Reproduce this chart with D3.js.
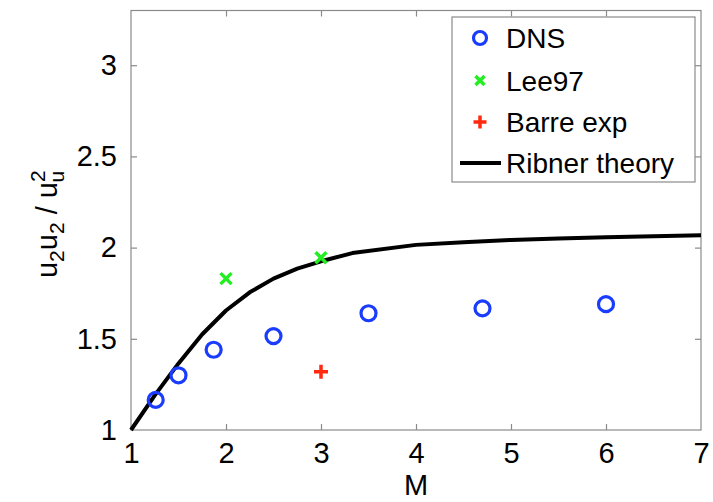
<!DOCTYPE html>
<html><head><meta charset="utf-8">
<script src="https://cdn.jsdelivr.net/npm/d3@7"></script>
<style>body{margin:0;background:#fff}svg{display:block}text{font-family:"Liberation Sans",Arial,sans-serif}</style>
</head><body>
<svg id="c" width="713" height="502"></svg>
<script>
const dnsM = [1.26, 1.5, 1.87, 2.5, 3.5, 4.7, 6.0];
const dnsVal = [1.165, 1.30, 1.44, 1.515, 1.64, 1.667, 1.69];
const leeM = [2, 3];
const leeVal = [1.83, 1.945];
const barreM = [3];
const barreVal = [1.32];
const ribnerM = [1, 1.25, 1.5, 1.75, 2, 2.25, 2.5, 2.75, 3, 3.33, 4, 4.5, 5, 5.5, 6, 6.5, 7];
const ribnerVal = [1, 1.19, 1.365, 1.525, 1.655, 1.755, 1.83, 1.885, 1.925, 1.97, 2.015, 2.03, 2.042, 2.05, 2.057, 2.062, 2.068];
const xTicks = [1, 2, 3, 4, 5, 6, 7];
const yTicks = [1, 1.5, 2, 2.5, 3];
const legendLabels = ["DNS", "Lee97", "Barre exp", "Ribner theory"];

const svg = d3.select("#c");
const L = 131, R = 701, T = 10.5, B = 430;
const x = d3.scaleLinear().domain([1, 7]).range([L, R]);
const y = d3.scaleLinear().domain([1, 3.3]).range([B, T]);
const axisCol = "#8a8a8a";
const fs = 29;

svg.append("rect").attr("x", L).attr("y", T).attr("width", R - L).attr("height", B - T)
  .attr("fill", "none").attr("stroke", axisCol).attr("stroke-width", 1.2);

function styleAxis(g) {
  g.select(".domain").remove();
  g.selectAll(".tick line").attr("stroke", axisCol).attr("stroke-width", 1.2);
  g.selectAll(".tick text").attr("fill", "#000").style("font-size", fs + "px")
   .style("font-family", '"Liberation Sans",Arial,sans-serif');
}
const tk = 6;
svg.append("g").attr("transform", `translate(0,${B})`)
  .call(d3.axisBottom(x).tickValues(xTicks).tickFormat(d3.format("d")).tickSizeInner(-tk).tickSizeOuter(0).tickPadding(12))
  .call(styleAxis);
svg.append("g").attr("transform", `translate(0,${T})`)
  .call(d3.axisTop(x).tickValues(xTicks).tickFormat("").tickSizeInner(-tk).tickSizeOuter(0))
  .call(styleAxis);
svg.append("g").attr("transform", `translate(${L},0)`)
  .call(d3.axisLeft(y).tickValues(yTicks).tickFormat(d => d3.format("")(d)).tickSizeInner(-tk).tickSizeOuter(0).tickPadding(14))
  .call(styleAxis);
svg.append("g").attr("transform", `translate(${R},0)`)
  .call(d3.axisRight(y).tickValues(yTicks).tickFormat("").tickSizeInner(-tk).tickSizeOuter(0))
  .call(styleAxis);
svg.selectAll(".tick").filter(d => d === 1 || d === 7).select("line").attr("opacity", 0);

svg.append("text").attr("x", (L + R) / 2).attr("y", 495).attr("text-anchor", "middle")
  .style("font-size", fs + "px").text("M");

const yl = svg.append("text").attr("transform", `translate(57,${(B + T) / 2 + 4}) rotate(-90)`)
  .attr("text-anchor", "middle").style("font-size", fs + "px");
yl.append("tspan").text("u");
yl.append("tspan").attr("dy", 7).style("font-size", "21px").text("2");
yl.append("tspan").attr("dy", -7).text("u");
yl.append("tspan").attr("dy", 7).style("font-size", "21px").text("2");
yl.append("tspan").attr("dy", -7).text(" / u");
yl.append("tspan").attr("dy", -12).style("font-size", "21px").text("2");
yl.append("tspan").attr("dy", 19).attr("dx", -12).style("font-size", "21px").text("u");

const line = d3.line().x((d, i) => x(ribnerM[i])).y(d => y(d));
svg.append("path").datum(ribnerVal).attr("d", line).attr("fill", "none")
  .attr("stroke", "#000").attr("stroke-width", 4).attr("stroke-linejoin", "round");

const blue = "#1a3cff", green = "#22ee22", red = "#ff2a10";
svg.selectAll("circle.dns").data(dnsVal).join("circle").attr("class", "dns")
  .attr("cx", (d, i) => x(dnsM[i])).attr("cy", d => y(d)).attr("r", 7.5)
  .attr("fill", "none").attr("stroke", blue).attr("stroke-width", 3.2);

function crossX(g, cx, cy, s, col) {
  g.append("path").attr("d", `M${cx - s},${cy - s}L${cx + s},${cy + s}M${cx - s},${cy + s}L${cx + s},${cy - s}`)
    .attr("stroke", col).attr("stroke-width", 3.5).attr("fill", "none");
}
function plus(g, cx, cy, s, col) {
  g.append("path").attr("d", `M${cx - s},${cy}L${cx + s},${cy}M${cx},${cy - s}L${cx},${cy + s}`)
    .attr("stroke", col).attr("stroke-width", 3.5).attr("fill", "none");
}
leeVal.forEach((d, i) => crossX(svg, x(leeM[i]), y(d), 5.5, green));
barreVal.forEach((d, i) => plus(svg, x(barreM[i]), y(d), 7, red));

const lg = svg.append("g");
lg.append("rect").attr("x", 452).attr("y", 17).attr("width", 243).attr("height", 165)
  .attr("fill", "#fff").attr("stroke", axisCol).attr("stroke-width", 1.2);
const ly = [38, 80.5, 122, 163];
lg.append("circle").attr("cx", 480).attr("cy", ly[0]).attr("r", 6.5).attr("fill", "none")
  .attr("stroke", blue).attr("stroke-width", 3.2);
crossX(lg, 480, ly[1], 4.5, green);
plus(lg, 480, ly[2], 6.5, red);
lg.append("line").attr("x1", 460).attr("x2", 501).attr("y1", ly[3]).attr("y2", ly[3])
  .attr("stroke", "#000").attr("stroke-width", 4);
legendLabels.forEach((t, i) => lg.append("text").attr("x", 506).attr("y", ly[i] + 10)
  .style("font-size", "28px").text(t));
</script>
</body></html>
